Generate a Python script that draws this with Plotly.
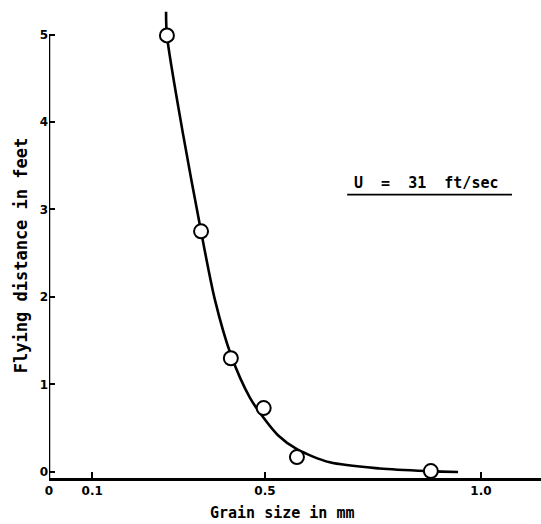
import plotly.graph_objects as go

# Measured points (grain size in mm, flying distance in feet)
grain_size = [0.273, 0.352, 0.421, 0.497, 0.574, 0.884]
flying_distance = [4.99, 2.75, 1.30, 0.73, 0.17, 0.01]

# Hand-drawn fitted curve
curve_x = [0.271, 0.273, 0.310, 0.352, 0.384, 0.421, 0.465, 0.495, 0.530, 0.574, 0.650, 0.766, 0.882, 0.947]
curve_y = [5.26, 4.99, 3.87, 2.75, 1.97, 1.34, 0.85, 0.63, 0.42, 0.26, 0.11, 0.04, 0.01, 0.0]

x_tickvals = [0, 0.1, 0.5, 1.0]
x_ticktext = ["0", "0.1", "0.5", "1.0"]
y_tickvals = [0, 1, 2, 3, 4, 5]
y_ticktext = ["0", "1", "2", "3", "4", "5"]

FONT = "DejaVu Sans"
MONO = "DejaVu Sans Mono"

fig = go.Figure()
fig.add_trace(go.Scatter(
    x=curve_x, y=curve_y, mode="lines",
    line=dict(color="black", width=2.6, shape="spline", smoothing=0.8),
    hoverinfo="skip", showlegend=False,
))
fig.add_trace(go.Scatter(
    x=grain_size, y=flying_distance, mode="markers",
    marker=dict(symbol="circle", size=14, color="white",
                line=dict(color="black", width=2)),
    showlegend=False, cliponaxis=False,
))

# y axis line (stops at the top tick, 5)
fig.add_shape(type="line", xref="x", yref="y", x0=0, x1=0, y0=-0.069, y1=5.0,
              line=dict(color="black", width=2.5))
# underline of the velocity label
fig.add_shape(type="line", xref="paper", yref="paper", x0=0.606, x1=0.941, y0=0.603, y1=0.603,
              line=dict(color="black", width=1.6))

fig.add_annotation(text="<b>U  =  31  ft/sec</b>", xref="paper", yref="paper",
                   x=0.768, y=0.628, xanchor="center", yanchor="middle", showarrow=False,
                   font=dict(family=MONO, size=15, color="black"))
fig.add_annotation(text="<b>Flying distance in feet</b>", xref="paper", yref="paper",
                   x=-0.057, y=0.474, xanchor="center", yanchor="middle",
                   textangle=-90, showarrow=False,
                   font=dict(family=MONO, size=17, color="black"))
fig.add_annotation(text="<b>Grain size in mm</b>", xref="paper", yref="paper",
                   x=0.474, y=-0.074, xanchor="center", yanchor="middle", showarrow=False,
                   font=dict(family=MONO, size=15, color="black"))

fig.update_layout(
    width=541, height=524,
    margin=dict(l=49, r=0, t=8, b=46),
    paper_bgcolor="white", plot_bgcolor="white",
    xaxis=dict(range=[0, 1.139], tickvals=x_tickvals,
               ticktext=["<b>%s</b>" % t for t in x_ticktext],
               ticks="inside", ticklen=6, tickwidth=1.5, tickcolor="black",
               showline=True, linecolor="black", linewidth=2.5,
               showgrid=False, zeroline=False,
               tickfont=dict(family=FONT, size=12, color="black")),
    yaxis=dict(range=[-0.069, 5.303], tickvals=y_tickvals,
               ticktext=["<b>%s</b>" % t for t in y_ticktext],
               ticks="inside", ticklen=6, tickwidth=1.5, tickcolor="black",
               showline=False, showgrid=False, zeroline=False,
               tickfont=dict(family=FONT, size=12, color="black")),
)

fig.write_html("out.html", config={"displayModeBar": False},
               post_script="document.body.style.margin='0';document.body.style.overflow='hidden';")
